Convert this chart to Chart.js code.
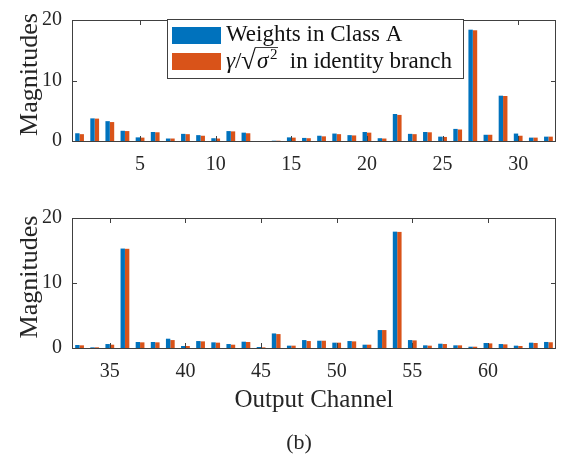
<!DOCTYPE html>
<html>
<head>
<meta charset="utf-8">
<script src="https://cdn.jsdelivr.net/npm/chart.js@4"></script>
<style>
  body { margin: 0; background: #fff; }
  #wrap { position: relative; width: 564px; height: 456px; overflow: hidden; }
  canvas { position: absolute; left: 0; }
  #top { top: 0; }
  #bottom { top: 190px; }
  #caption {
    position: absolute; left: 0; width: 598px; top: 429px;
    text-align: center; font: 22px "Liberation Serif", serif; color: #262626;
  }
</style>
</head>
<body>
<div id="wrap">
  <canvas id="top" width="564" height="185"></canvas>
  <canvas id="bottom" width="564" height="266"></canvas>
  <div id="caption">(b)</div>
</div>
<script>
// channels
const channelsTop = [];
for (let c = 1; c <= 32; c++) channelsTop.push(String(c));
const channelsBottom = [];
for (let c = 33; c <= 64; c++) channelsBottom.push(String(c));

// values
const weightsTop = [1.28, 3.74, 3.28, 1.69, 0.6, 1.49, 0.41, 1.18, 0.97, 0.46, 1.64, 1.38, 0.0, 0.05, 0.6, 0.51,
                    0.87, 1.23, 0.97, 1.49, 0.46, 4.46, 1.18, 1.49, 0.72, 2.0, 18.4, 1.03, 7.49, 1.23, 0.56, 0.72];
const gammaTop   = [1.13, 3.7, 3.13, 1.64, 0.56, 1.44, 0.41, 1.13, 0.87, 0.41, 1.59, 1.28, 0.0, 0.05, 0.56, 0.46,
                    0.77, 1.13, 0.92, 1.38, 0.41, 4.31, 1.13, 1.44, 0.67, 1.9, 18.3, 1.03, 7.44, 0.87, 0.56, 0.72];
const weightsBottom = [0.46, 0.1, 0.61, 15.3, 0.92, 0.92, 1.43, 0.31, 1.07, 0.87, 0.61, 0.97, 0.15, 2.24, 0.36, 1.22,
                       1.12, 0.82, 1.07, 0.51, 2.76, 17.9, 1.22, 0.41, 0.66, 0.41, 0.2, 0.77, 0.61, 0.36, 0.82, 0.93];
const gammaBottom   = [0.41, 0.1, 0.51, 15.26, 0.87, 0.87, 1.22, 0.31, 1.02, 0.82, 0.51, 0.92, 0.1, 2.14, 0.36, 1.07,
                       1.12, 0.82, 1.02, 0.51, 2.76, 17.86, 1.17, 0.36, 0.61, 0.41, 0.2, 0.71, 0.56, 0.31, 0.77, 0.88];

const seriesNames = ["Weights in Class A", "γ/√σ² in identity branch"];
const yTicks = [0, 10, 20];
const yTitle = "Magnitudes";

const BLUE = "#0072BD";
const ORANGE = "#D95319";
const AXIS = "#404040";
const TEXT = "#262626";
const SERIF = '"Liberation Serif", "Times New Roman", serif';

// box + inward ticks, matlab style; ylabel drawn here too (sits a bit above centre)
const boxPlugin = {
  id: "box",
  afterDatasetsDraw(chart) {
    const { ctx, chartArea: a, scales } = chart;
    ctx.save();
    ctx.strokeStyle = AXIS;
    ctx.lineWidth = 1;
    ctx.beginPath();
    ctx.rect(Math.round(a.left) + 0.5, Math.round(a.top) + 0.5,
             Math.round(a.right - a.left) - 1, Math.round(a.bottom - a.top));
    chart.data.labels.forEach((lab, i) => {
      if (Number(lab) % 5 !== 0) return;
      const x = Math.round(scales.x.getPixelForValue(i)) + 0.5;
      ctx.moveTo(x, a.top); ctx.lineTo(x, a.top + 5);
      ctx.moveTo(x, a.bottom); ctx.lineTo(x, a.bottom - 5);
    });
    yTicks.forEach(v => {
      const y = Math.round(scales.y.getPixelForValue(v)) + 0.5;
      ctx.moveTo(a.left, y); ctx.lineTo(a.left + 5, y);
      ctx.moveTo(a.right, y); ctx.lineTo(a.right - 5, y);
    });
    ctx.stroke();

    ctx.translate(30, (a.top + a.bottom) / 2 - 6);
    ctx.rotate(-Math.PI / 2);
    ctx.fillStyle = TEXT;
    ctx.font = "26px " + SERIF;
    ctx.textAlign = "center";
    ctx.textBaseline = "middle";
    ctx.fillText(yTitle, 0, 0);
    ctx.restore();
  }
};

// legend box inside the top axes
const legendPlugin = {
  id: "mlLegend",
  afterDraw(chart) {
    const ctx = chart.ctx;
    ctx.save();
    ctx.fillStyle = "#fff";
    ctx.fillRect(167, 19, 296, 59);
    ctx.strokeStyle = AXIS;
    ctx.lineWidth = 1;
    ctx.strokeRect(167.5, 19.5, 296, 59);

    ctx.fillStyle = BLUE;
    ctx.fillRect(172, 27, 49, 17);
    ctx.fillStyle = ORANGE;
    ctx.fillRect(172, 53, 49, 17);

    ctx.fillStyle = "#111";
    ctx.textBaseline = "alphabetic";
    ctx.font = "23px " + SERIF;
    ctx.fillText(seriesNames[0], 226, 41);

    // second entry: γ/√σ² in identity branch
    const base = 68;
    ctx.font = "italic 23px " + SERIF;
    ctx.fillText("γ", 226, base);
    ctx.font = "23px " + SERIF;
    ctx.fillText("/", 235, base);
    ctx.font = "27px " + SERIF;
    const rad = ctx.measureText("√");
    ctx.fillText("√", 241, base + 1);
    const barY = base + 1 - rad.actualBoundingBoxAscent + 0.5;
    const barX0 = 241 + rad.actualBoundingBoxRight - 1;
    ctx.font = "italic 23px " + SERIF;
    ctx.fillText("σ", 257, base);
    ctx.font = "15px " + SERIF;
    ctx.fillText("2", 270, base - 9);
    ctx.beginPath();
    ctx.moveTo(barX0, barY);
    ctx.lineTo(278, barY);
    ctx.stroke();
    ctx.font = "23px " + SERIF;
    ctx.fillText(" " + seriesNames[1].split(" ").slice(1).join(" "), 284, base);
    ctx.restore();
  }
};

function makeChart(id, labels, blue, orange, opts) {
  const ctx = document.getElementById(id).getContext("2d");
  return new Chart(ctx, {
    type: "bar",
    data: {
      labels: labels,
      datasets: [
        { label: seriesNames[0], data: blue, backgroundColor: BLUE, borderWidth: 0 },
        { label: seriesNames[1], data: orange, backgroundColor: ORANGE, borderWidth: 0 }
      ]
    },
    options: {
      responsive: false,
      animation: false,
      devicePixelRatio: 1,
      categoryPercentage: 0.58,
      barPercentage: 1.0,
      layout: { padding: { left: 0, right: 8, top: opts.padTop, bottom: 0 } },
      plugins: { legend: { display: false }, tooltip: { enabled: false } },
      scales: {
        x: {
          grid: { display: false, drawTicks: false },
          border: { display: false },
          ticks: {
            autoSkip: false, maxRotation: 0, padding: 14, color: TEXT,
            font: { family: SERIF, size: 20, lineHeight: 1 },
            callback: function (v) {
              const ch = Number(this.getLabelForValue(v));
              return ch % 5 === 0 ? String(ch) : "";
            }
          },
          title: opts.xTitle ? {
            display: true, text: opts.xTitle, color: TEXT,
            font: { family: SERIF, size: 25, lineHeight: 1.2 },
            padding: { top: 0, bottom: opts.xTitlePad }
          } : { display: false },
          afterFit: s => { s.height = opts.xHeight; }
        },
        y: {
          min: 0, max: 20,
          grid: { display: false, drawTicks: false },
          border: { display: false },
          ticks: {
            stepSize: 10, padding: 10, color: TEXT,
            font: { family: SERIF, size: 20, lineHeight: 1 }
          },
          title: { display: false },
          afterFit: s => { s.width = 72; }
        }
      }
    },
    plugins: opts.legend ? [boxPlugin, legendPlugin] : [boxPlugin]
  });
}

makeChart("top", channelsTop, weightsTop, gammaTop,
  { padTop: 11, xHeight: 44, legend: true });
makeChart("bottom", channelsBottom, weightsBottom, gammaBottom,
  { padTop: 28, xHeight: 108, xTitle: "Output Channel", xTitlePad: 41, legend: false });
</script>
</body>
</html>
